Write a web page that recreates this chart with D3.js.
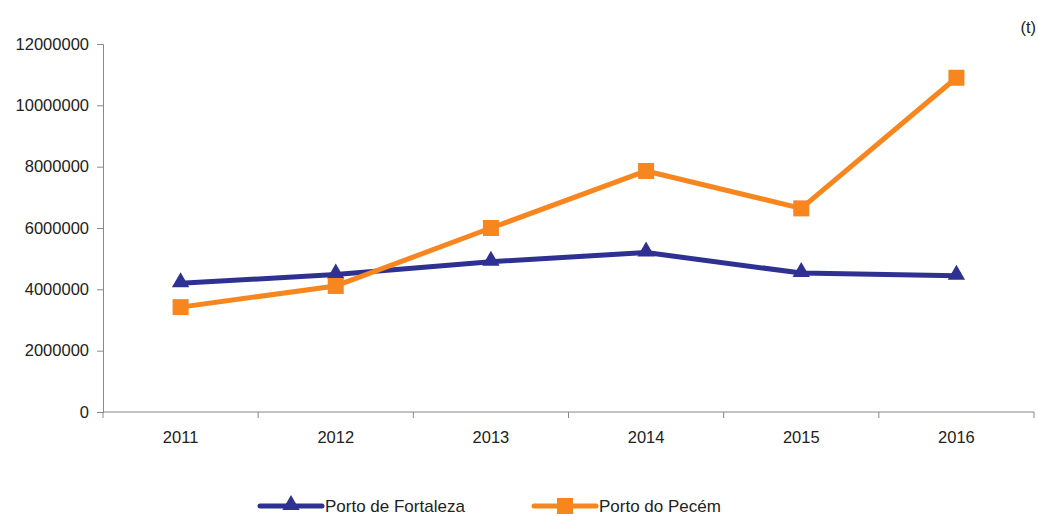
<!DOCTYPE html>
<html>
<head>
<meta charset="utf-8">
<script src="https://cdn.jsdelivr.net/npm/d3@7"></script>
<style>
  body { margin: 0; background: #fff; }
  text { font-family: "Liberation Sans", Arial, sans-serif; fill: #222; }
</style>
</head>
<body>
<div id="chart"></div>
<script>
// data
const years = ["2011", "2012", "2013", "2014", "2015", "2016"];
const fortaleza = [4200000, 4480000, 4900000, 5200000, 4530000, 4440000];
const pecem = [3420000, 4110000, 6000000, 7860000, 6640000, 10900000];
const yTicks = [0, 2000000, 4000000, 6000000, 8000000, 10000000, 12000000];

const series = [
  {name: "Porto de Fortaleza", values: fortaleza, color: "#2e3192", marker: "triangle"},
  {name: "Porto do Pecém", values: pecem, color: "#f7861f", marker: "square"}
];

const width = 1038, height = 516;
const margin = {top: 44, right: 4, bottom: 104, left: 103};

const svg = d3.select("#chart").append("svg")
  .attr("width", width)
  .attr("height", height);

const x = d3.scaleBand()
  .domain(years)
  .range([margin.left, width - margin.right]);

const y = d3.scaleLinear()
  .domain([0, 12000000])
  .range([height - margin.bottom, margin.top]);

// y axis
const yAxis = svg.append("g")
  .attr("transform", "translate(" + margin.left + ",0)")
  .call(d3.axisLeft(y).tickValues(yTicks).tickSize(6).tickPadding(8).tickFormat(d3.format("d")));

// x axis - ticks on band boundaries
const xAxis = svg.append("g")
  .attr("transform", "translate(0," + y(0) + ")");
xAxis.append("line")
  .attr("x1", margin.left).attr("x2", width - margin.right)
  .attr("stroke", "#888");
const bounds = years.map(d => x(d)).concat([x.range()[1]]);
xAxis.selectAll(".bt").data(bounds).enter().append("line")
  .attr("x1", d => d).attr("x2", d => d)
  .attr("y1", 0).attr("y2", 6)
  .attr("stroke", "#888");
xAxis.selectAll(".lbl").data(years).enter().append("text")
  .attr("x", d => x(d) + x.bandwidth() / 2)
  .attr("y", 31)
  .attr("text-anchor", "middle")
  .style("font-size", "16.5px")
  .text(d => d);

yAxis.select(".domain").attr("stroke", "#888");
yAxis.selectAll(".tick line").attr("stroke", "#888");
yAxis.selectAll(".tick text")
  .style("font-size", "16.5px")
  .style("font-family", "Liberation Sans, Arial, sans-serif")
  .attr("fill", "#222");

svg.append("text")
  .attr("x", 1036)
  .attr("y", 33)
  .attr("text-anchor", "end")
  .style("font-size", "16.5px")
  .text("(t)");

const line = d3.line()
  .x((d, i) => x(years[i]) + x.bandwidth() / 2)
  .y(d => y(d));

const tri = d3.symbol().type(d3.symbolTriangle).size(130);

function drawMarker(g, kind, color, cx, cy) {
  if (kind === "square") {
    g.append("rect")
      .attr("x", cx - 8).attr("y", cy - 8)
      .attr("width", 16).attr("height", 16)
      .attr("fill", color);
  } else {
    g.append("path")
      .attr("d", tri())
      .attr("transform", "translate(" + cx + "," + (cy - 1) + ")")
      .attr("fill", color);
  }
}

series.forEach(s => {
  svg.append("path")
    .datum(s.values)
    .attr("d", line)
    .attr("fill", "none")
    .attr("stroke", s.color)
    .attr("stroke-width", 5)
    .attr("stroke-linejoin", "round");
  const g = svg.append("g");
  s.values.forEach((v, i) => {
    drawMarker(g, s.marker, s.color, x(years[i]) + x.bandwidth() / 2, y(v));
  });
});

// legend
const legendX = [260, 534];
series.forEach((s, i) => {
  const lg = svg.append("g").attr("transform", "translate(" + legendX[i] + ",506)");
  lg.append("line")
    .attr("x1", 0).attr("x2", 62)
    .attr("stroke", s.color)
    .attr("stroke-width", 5)
    .attr("stroke-linecap", "round");
  drawMarker(lg, s.marker, s.color, 31, 0);
  lg.append("text")
    .attr("x", 65)
    .attr("y", 6)
    .style("font-size", "17px")
    .text(s.name);
});
</script>
</body>
</html>
